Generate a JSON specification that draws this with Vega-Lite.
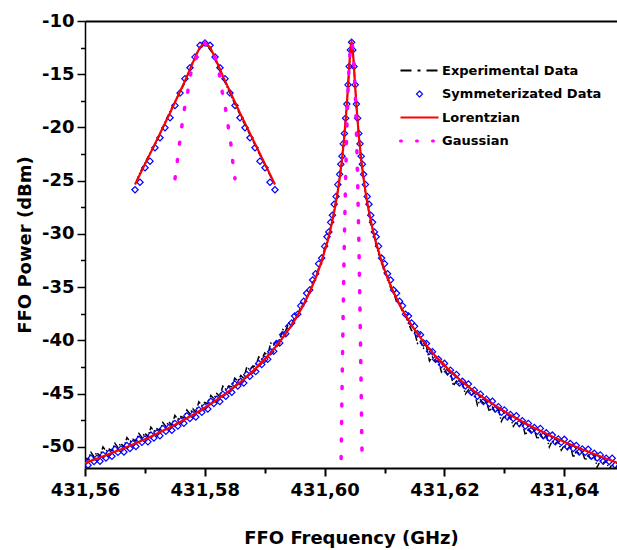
{
"$schema": "https://vega.github.io/schema/vega-lite/v6.json",
"width": 532, "height": 447,
"autosize": {"type": "none"},
"padding": {"left": 85, "top": 21, "right": 0, "bottom": 82},
"background": "white",
"config": {"view": {"stroke": null}, "font": "DejaVu Sans"},
"data": {"values": [
{"s":"E","g":"m","f":431.5600,"p":-51.03},{"s":"E","g":"m","f":431.5605,"p":-51.23},{"s":"E","g":"m","f":431.5610,"p":-50.53},{"s":"E","g":"m","f":431.5615,"p":-50.93},{"s":"E","g":"m","f":431.5620,"p":-50.53},{"s":"E","g":"m","f":431.5625,"p":-50.92},{"s":"E","g":"m","f":431.5630,"p":-50.02},{"s":"E","g":"m","f":431.5635,"p":-50.41},{"s":"E","g":"m","f":431.5640,"p":-50.21},{"s":"E","g":"m","f":431.5645,"p":-50.40},
{"s":"E","g":"m","f":431.5650,"p":-49.69},{"s":"E","g":"m","f":431.5655,"p":-50.08},{"s":"E","g":"m","f":431.5660,"p":-49.67},{"s":"E","g":"m","f":431.5665,"p":-50.05},{"s":"E","g":"m","f":431.5670,"p":-49.14},{"s":"E","g":"m","f":431.5675,"p":-49.52},{"s":"E","g":"m","f":431.5680,"p":-49.30},{"s":"E","g":"m","f":431.5685,"p":-49.48},{"s":"E","g":"m","f":431.5690,"p":-48.76},{"s":"E","g":"m","f":431.5695,"p":-49.14},
{"s":"E","g":"m","f":431.5700,"p":-48.72},{"s":"E","g":"m","f":431.5705,"p":-49.09},{"s":"E","g":"m","f":431.5710,"p":-48.16},{"s":"E","g":"m","f":431.5715,"p":-48.53},{"s":"E","g":"m","f":431.5720,"p":-48.30},{"s":"E","g":"m","f":431.5725,"p":-48.46},{"s":"E","g":"m","f":431.5730,"p":-47.73},{"s":"E","g":"m","f":431.5735,"p":-48.09},{"s":"E","g":"m","f":431.5740,"p":-47.65},{"s":"E","g":"m","f":431.5745,"p":-48.00},
{"s":"E","g":"m","f":431.5750,"p":-47.06},{"s":"E","g":"m","f":431.5755,"p":-47.41},{"s":"E","g":"m","f":431.5760,"p":-47.16},{"s":"E","g":"m","f":431.5765,"p":-47.30},{"s":"E","g":"m","f":431.5770,"p":-46.55},{"s":"E","g":"m","f":431.5775,"p":-46.89},{"s":"E","g":"m","f":431.5780,"p":-46.43},{"s":"E","g":"m","f":431.5785,"p":-46.76},{"s":"E","g":"m","f":431.5790,"p":-45.79},{"s":"E","g":"m","f":431.5795,"p":-46.12},
{"s":"E","g":"m","f":431.5800,"p":-45.84},{"s":"E","g":"m","f":431.5805,"p":-45.96},{"s":"E","g":"m","f":431.5810,"p":-45.18},{"s":"E","g":"m","f":431.5815,"p":-45.49},{"s":"E","g":"m","f":431.5820,"p":-45.00},{"s":"E","g":"m","f":431.5825,"p":-45.31},{"s":"E","g":"m","f":431.5830,"p":-44.31},{"s":"E","g":"m","f":431.5835,"p":-44.60},{"s":"E","g":"m","f":431.5840,"p":-44.29},{"s":"E","g":"m","f":431.5845,"p":-44.38},
{"s":"E","g":"m","f":431.5850,"p":-43.56},{"s":"E","g":"m","f":431.5855,"p":-43.84},{"s":"E","g":"m","f":431.5860,"p":-43.31},{"s":"E","g":"m","f":431.5865,"p":-43.57},{"s":"E","g":"m","f":431.5870,"p":-42.52},{"s":"E","g":"m","f":431.5875,"p":-42.77},{"s":"E","g":"m","f":431.5880,"p":-42.41},{"s":"E","g":"m","f":431.5885,"p":-42.44},{"s":"E","g":"m","f":431.5890,"p":-41.57},{"s":"E","g":"m","f":431.5895,"p":-41.78},
{"s":"E","g":"m","f":431.5900,"p":-41.19},{"s":"E","g":"m","f":431.5905,"p":-41.39},{"s":"E","g":"m","f":431.5910,"p":-40.27},{"s":"E","g":"m","f":431.5915,"p":-40.44},{"s":"E","g":"m","f":431.5920,"p":-40.00},{"s":"E","g":"m","f":431.5925,"p":-39.95},{"s":"E","g":"m","f":431.5930,"p":-38.98},{"s":"E","g":"m","f":431.5935,"p":-39.09},{"s":"E","g":"m","f":431.5940,"p":-38.39},{"s":"E","g":"m","f":431.5945,"p":-38.47},
{"s":"E","g":"m","f":431.5950,"p":-37.92},{"s":"E","g":"m","f":431.5955,"p":-37.66},{"s":"E","g":"m","f":431.5960,"p":-36.86},{"s":"E","g":"m","f":431.5965,"p":-36.74},{"s":"E","g":"m","f":431.5970,"p":-35.88},{"s":"E","g":"m","f":431.5975,"p":-35.48},{"s":"E","g":"m","f":431.5980,"p":-34.54},{"s":"E","g":"m","f":431.5985,"p":-34.25},{"s":"E","g":"m","f":431.5990,"p":-33.20},{"s":"E","g":"m","f":431.5995,"p":-32.58},
{"s":"E","g":"m","f":431.6000,"p":-31.37},{"s":"E","g":"m","f":431.6005,"p":-30.76},{"s":"E","g":"m","f":431.6009,"p":-29.56},{"s":"E","g":"m","f":431.6013,"p":-28.75},{"s":"E","g":"m","f":431.6017,"p":-27.42},{"s":"E","g":"m","f":431.6021,"p":-26.33},{"s":"E","g":"m","f":431.6025,"p":-24.71},{"s":"E","g":"m","f":431.6029,"p":-23.00},{"s":"E","g":"m","f":431.6033,"p":-20.66},{"s":"E","g":"m","f":431.6037,"p":-17.91},
{"s":"E","g":"m","f":431.6041,"p":-14.37},{"s":"E","g":"m","f":431.6043,"p":-12.72},{"s":"E","g":"m","f":431.6045,"p":-12.00},
{"s":"E","g":"m","f":431.6047,"p":-12.72},{"s":"E","g":"m","f":431.6049,"p":-14.37},{"s":"E","g":"m","f":431.6053,"p":-18.01},{"s":"E","g":"m","f":431.6057,"p":-20.76},{"s":"E","g":"m","f":431.6061,"p":-23.20},{"s":"E","g":"m","f":431.6065,"p":-24.81},{"s":"E","g":"m","f":431.6069,"p":-26.53},{"s":"E","g":"m","f":431.6073,"p":-27.62},{"s":"E","g":"m","f":431.6077,"p":-29.05},{"s":"E","g":"m","f":431.6081,"p":-29.76},
{"s":"E","g":"m","f":431.6085,"p":-30.86},{"s":"E","g":"m","f":431.6090,"p":-31.87},{"s":"E","g":"m","f":431.6095,"p":-32.58},{"s":"E","g":"m","f":431.6100,"p":-33.70},{"s":"E","g":"m","f":431.6105,"p":-34.05},{"s":"E","g":"m","f":431.6110,"p":-35.04},{"s":"E","g":"m","f":431.6115,"p":-35.48},{"s":"E","g":"m","f":431.6120,"p":-36.38},{"s":"E","g":"m","f":431.6125,"p":-36.54},{"s":"E","g":"m","f":431.6130,"p":-37.36},
{"s":"E","g":"m","f":431.6135,"p":-37.66},{"s":"E","g":"m","f":431.6140,"p":-38.42},{"s":"E","g":"m","f":431.6145,"p":-39.07},{"s":"E","g":"m","f":431.6150,"p":-39.19},{"s":"E","g":"m","f":431.6155,"p":-40.29},{"s":"E","g":"m","f":431.6160,"p":-40.08},{"s":"E","g":"m","f":431.6165,"p":-40.75},{"s":"E","g":"m","f":431.6170,"p":-40.60},{"s":"E","g":"m","f":431.6175,"p":-41.94},{"s":"E","g":"m","f":431.6180,"p":-41.57},
{"s":"E","g":"m","f":431.6185,"p":-41.99},{"s":"E","g":"m","f":431.6190,"p":-41.99},{"s":"E","g":"m","f":431.6195,"p":-42.98},{"s":"E","g":"m","f":431.6200,"p":-42.67},{"s":"E","g":"m","f":431.6205,"p":-43.24},{"s":"E","g":"m","f":431.6210,"p":-43.01},{"s":"E","g":"m","f":431.6215,"p":-44.27},{"s":"E","g":"m","f":431.6220,"p":-43.82},{"s":"E","g":"m","f":431.6225,"p":-44.17},{"s":"E","g":"m","f":431.6230,"p":-44.11},
{"s":"E","g":"m","f":431.6235,"p":-45.04},{"s":"E","g":"m","f":431.6240,"p":-44.66},{"s":"E","g":"m","f":431.6245,"p":-45.18},{"s":"E","g":"m","f":431.6250,"p":-44.89},{"s":"E","g":"m","f":431.6255,"p":-46.10},{"s":"E","g":"m","f":431.6260,"p":-45.61},{"s":"E","g":"m","f":431.6265,"p":-45.91},{"s":"E","g":"m","f":431.6270,"p":-45.80},{"s":"E","g":"m","f":431.6275,"p":-46.69},{"s":"E","g":"m","f":431.6280,"p":-46.28},
{"s":"E","g":"m","f":431.6285,"p":-46.76},{"s":"E","g":"m","f":431.6290,"p":-46.44},{"s":"E","g":"m","f":431.6295,"p":-47.62},{"s":"E","g":"m","f":431.6300,"p":-47.09},{"s":"E","g":"m","f":431.6305,"p":-47.36},{"s":"E","g":"m","f":431.6310,"p":-47.23},{"s":"E","g":"m","f":431.6315,"p":-48.09},{"s":"E","g":"m","f":431.6320,"p":-47.65},{"s":"E","g":"m","f":431.6325,"p":-48.10},{"s":"E","g":"m","f":431.6330,"p":-47.76},
{"s":"E","g":"m","f":431.6335,"p":-48.91},{"s":"E","g":"m","f":431.6340,"p":-48.36},{"s":"E","g":"m","f":431.6345,"p":-48.60},{"s":"E","g":"m","f":431.6350,"p":-48.45},{"s":"E","g":"m","f":431.6355,"p":-49.29},{"s":"E","g":"m","f":431.6360,"p":-48.83},{"s":"E","g":"m","f":431.6365,"p":-49.26},{"s":"E","g":"m","f":431.6370,"p":-48.90},{"s":"E","g":"m","f":431.6375,"p":-50.03},{"s":"E","g":"m","f":431.6380,"p":-49.46},
{"s":"E","g":"m","f":431.6385,"p":-49.69},{"s":"E","g":"m","f":431.6390,"p":-49.52},{"s":"E","g":"m","f":431.6395,"p":-50.34},{"s":"E","g":"m","f":431.6400,"p":-49.86},{"s":"E","g":"m","f":431.6405,"p":-50.28},{"s":"E","g":"m","f":431.6410,"p":-49.90},{"s":"E","g":"m","f":431.6415,"p":-51.02},{"s":"E","g":"m","f":431.6420,"p":-50.44},{"s":"E","g":"m","f":431.6425,"p":-50.65},{"s":"E","g":"m","f":431.6430,"p":-50.47},
{"s":"E","g":"m","f":431.6435,"p":-51.28},{"s":"E","g":"m","f":431.6440,"p":-50.79},{"s":"E","g":"m","f":431.6445,"p":-51.20},{"s":"E","g":"m","f":431.6450,"p":-50.81},{"s":"E","g":"m","f":431.6455,"p":-51.91},{"s":"E","g":"m","f":431.6460,"p":-51.32},{"s":"E","g":"m","f":431.6465,"p":-51.52},{"s":"E","g":"m","f":431.6470,"p":-51.33},{"s":"E","g":"m","f":431.6475,"p":-52.13},{"s":"E","g":"m","f":431.6480,"p":-51.63},
{"s":"E","g":"m","f":431.6485,"p":-52.03},{"s":"E","g":"m","f":431.6490,"p":-51.63},
{"s":"E","g":"i","f":431.56860,"p":-25.10},{"s":"E","g":"i","f":431.56900,"p":-24.46},{"s":"E","g":"i","f":431.57050,"p":-22.79},{"s":"E","g":"i","f":431.57200,"p":-21.31},{"s":"E","g":"i","f":431.57350,"p":-19.34},{"s":"E","g":"i","f":431.57500,"p":-17.57},{"s":"E","g":"i","f":431.57650,"p":-15.99},{"s":"E","g":"i","f":431.57780,"p":-14.08},{"s":"E","g":"i","f":431.57880,"p":-12.87},{"s":"E","g":"i","f":431.58000,"p":-12.10},
{"s":"E","g":"i","f":431.58126,"p":-12.95},{"s":"E","g":"i","f":431.58226,"p":-14.35},{"s":"E","g":"i","f":431.58356,"p":-16.00},{"s":"E","g":"i","f":431.58506,"p":-17.85},{"s":"E","g":"i","f":431.58656,"p":-19.60},{"s":"E","g":"i","f":431.58806,"p":-21.30},{"s":"E","g":"i","f":431.58956,"p":-23.00},{"s":"E","g":"i","f":431.59106,"p":-24.70},{"s":"E","g":"i","f":431.59150,"p":-25.20},

{"s":"S","f":431.5600,"p":-51.43},{"s":"S","f":431.5605,"p":-51.73},{"s":"S","f":431.5610,"p":-51.08},{"s":"S","f":431.5615,"p":-51.38},{"s":"S","f":431.5620,"p":-51.08},{"s":"S","f":431.5625,"p":-51.37},{"s":"S","f":431.5630,"p":-50.77},{"s":"S","f":431.5635,"p":-51.06},{"s":"S","f":431.5640,"p":-50.61},{"s":"S","f":431.5645,"p":-50.90},
{"s":"S","f":431.5650,"p":-50.24},{"s":"S","f":431.5655,"p":-50.53},{"s":"S","f":431.5660,"p":-50.22},{"s":"S","f":431.5665,"p":-50.50},{"s":"S","f":431.5670,"p":-49.89},{"s":"S","f":431.5675,"p":-50.17},{"s":"S","f":431.5680,"p":-49.70},{"s":"S","f":431.5685,"p":-49.98},{"s":"S","f":431.5690,"p":-49.31},{"s":"S","f":431.5695,"p":-49.59},
{"s":"S","f":431.5700,"p":-49.27},{"s":"S","f":431.5705,"p":-49.54},{"s":"S","f":431.5710,"p":-48.91},{"s":"S","f":431.5715,"p":-49.18},{"s":"S","f":431.5720,"p":-48.70},{"s":"S","f":431.5725,"p":-48.96},{"s":"S","f":431.5730,"p":-48.28},{"s":"S","f":431.5735,"p":-48.54},{"s":"S","f":431.5740,"p":-48.20},{"s":"S","f":431.5745,"p":-48.45},
{"s":"S","f":431.5750,"p":-47.81},{"s":"S","f":431.5755,"p":-48.06},{"s":"S","f":431.5760,"p":-47.56},{"s":"S","f":431.5765,"p":-47.80},{"s":"S","f":431.5770,"p":-47.10},{"s":"S","f":431.5775,"p":-47.34},{"s":"S","f":431.5780,"p":-46.98},{"s":"S","f":431.5785,"p":-47.21},{"s":"S","f":431.5790,"p":-46.54},{"s":"S","f":431.5795,"p":-46.77},
{"s":"S","f":431.5800,"p":-46.24},{"s":"S","f":431.5805,"p":-46.46},{"s":"S","f":431.5810,"p":-45.73},{"s":"S","f":431.5815,"p":-45.94},{"s":"S","f":431.5820,"p":-45.55},{"s":"S","f":431.5825,"p":-45.76},{"s":"S","f":431.5830,"p":-45.06},{"s":"S","f":431.5835,"p":-45.25},{"s":"S","f":431.5840,"p":-44.69},{"s":"S","f":431.5845,"p":-44.88},
{"s":"S","f":431.5850,"p":-44.11},{"s":"S","f":431.5855,"p":-44.29},{"s":"S","f":431.5860,"p":-43.86},{"s":"S","f":431.5865,"p":-44.02},{"s":"S","f":431.5870,"p":-43.22},{"s":"S","f":431.5875,"p":-43.37},{"s":"S","f":431.5880,"p":-42.81},{"s":"S","f":431.5885,"p":-42.94},{"s":"S","f":431.5890,"p":-42.17},{"s":"S","f":431.5895,"p":-42.28},
{"s":"S","f":431.5900,"p":-41.79},{"s":"S","f":431.5905,"p":-41.79},{"s":"S","f":431.5910,"p":-41.07},{"s":"S","f":431.5915,"p":-41.04},{"s":"S","f":431.5920,"p":-40.30},{"s":"S","f":431.5925,"p":-40.25},{"s":"S","f":431.5930,"p":-39.48},{"s":"S","f":431.5935,"p":-39.39},{"s":"S","f":431.5940,"p":-38.69},{"s":"S","f":431.5945,"p":-38.37},
{"s":"S","f":431.5950,"p":-37.72},{"s":"S","f":431.5955,"p":-37.56},{"s":"S","f":431.5960,"p":-36.76},{"s":"S","f":431.5965,"p":-36.34},{"s":"S","f":431.5970,"p":-35.58},{"s":"S","f":431.5975,"p":-35.28},{"s":"S","f":431.5980,"p":-34.34},{"s":"S","f":431.5985,"p":-33.75},{"s":"S","f":431.5990,"p":-32.80},{"s":"S","f":431.5995,"p":-32.28},
{"s":"S","f":431.6000,"p":-31.17},{"s":"S","f":431.6004,"p":-30.27},{"s":"S","f":431.6007,"p":-29.82},{"s":"S","f":431.6010,"p":-28.92},{"s":"S","f":431.6013,"p":-28.25},{"s":"S","f":431.6016,"p":-27.22},{"s":"S","f":431.6019,"p":-26.50},{"s":"S","f":431.6022,"p":-25.37},{"s":"S","f":431.6025,"p":-24.41},{"s":"S","f":431.6027,"p":-23.45},
{"s":"S","f":431.6029,"p":-22.70},{"s":"S","f":431.6031,"p":-21.54},{"s":"S","f":431.6033,"p":-20.56},{"s":"S","f":431.6035,"p":-19.13},{"s":"S","f":431.6037,"p":-17.81},{"s":"S","f":431.6039,"p":-16.00},{"s":"S","f":431.6041,"p":-14.27},{"s":"S","f":431.6043,"p":-12.72},{"s":"S","f":431.6045,"p":-12.00},
{"s":"S","f":431.6047,"p":-12.72},{"s":"S","f":431.6049,"p":-14.27},{"s":"S","f":431.6051,"p":-16.00},{"s":"S","f":431.6053,"p":-17.81},{"s":"S","f":431.6055,"p":-19.13},{"s":"S","f":431.6057,"p":-20.56},{"s":"S","f":431.6059,"p":-21.54},{"s":"S","f":431.6061,"p":-22.70},{"s":"S","f":431.6063,"p":-23.45},{"s":"S","f":431.6065,"p":-24.41},
{"s":"S","f":431.6068,"p":-25.37},{"s":"S","f":431.6071,"p":-26.50},{"s":"S","f":431.6074,"p":-27.22},{"s":"S","f":431.6077,"p":-28.25},{"s":"S","f":431.6080,"p":-28.92},{"s":"S","f":431.6083,"p":-29.82},{"s":"S","f":431.6086,"p":-30.27},{"s":"S","f":431.6090,"p":-31.17},{"s":"S","f":431.6095,"p":-32.28},{"s":"S","f":431.6100,"p":-32.80},
{"s":"S","f":431.6105,"p":-33.75},{"s":"S","f":431.6110,"p":-34.34},{"s":"S","f":431.6115,"p":-35.28},{"s":"S","f":431.6120,"p":-35.58},{"s":"S","f":431.6125,"p":-36.34},{"s":"S","f":431.6130,"p":-36.76},{"s":"S","f":431.6135,"p":-37.56},{"s":"S","f":431.6140,"p":-37.72},{"s":"S","f":431.6145,"p":-38.37},{"s":"S","f":431.6150,"p":-38.69},
{"s":"S","f":431.6155,"p":-39.39},{"s":"S","f":431.6160,"p":-39.48},{"s":"S","f":431.6165,"p":-40.25},{"s":"S","f":431.6170,"p":-40.30},{"s":"S","f":431.6175,"p":-41.04},{"s":"S","f":431.6180,"p":-41.07},{"s":"S","f":431.6185,"p":-41.79},{"s":"S","f":431.6190,"p":-41.79},{"s":"S","f":431.6195,"p":-42.28},{"s":"S","f":431.6200,"p":-42.17},
{"s":"S","f":431.6205,"p":-42.94},{"s":"S","f":431.6210,"p":-42.81},{"s":"S","f":431.6215,"p":-43.37},{"s":"S","f":431.6220,"p":-43.22},{"s":"S","f":431.6225,"p":-44.02},{"s":"S","f":431.6230,"p":-43.86},{"s":"S","f":431.6235,"p":-44.29},{"s":"S","f":431.6240,"p":-44.11},{"s":"S","f":431.6245,"p":-44.88},{"s":"S","f":431.6250,"p":-44.69},
{"s":"S","f":431.6255,"p":-45.25},{"s":"S","f":431.6260,"p":-45.06},{"s":"S","f":431.6265,"p":-45.76},{"s":"S","f":431.6270,"p":-45.55},{"s":"S","f":431.6275,"p":-45.94},{"s":"S","f":431.6280,"p":-45.73},{"s":"S","f":431.6285,"p":-46.46},{"s":"S","f":431.6290,"p":-46.24},{"s":"S","f":431.6295,"p":-46.77},{"s":"S","f":431.6300,"p":-46.54},
{"s":"S","f":431.6305,"p":-47.21},{"s":"S","f":431.6310,"p":-46.98},{"s":"S","f":431.6315,"p":-47.34},{"s":"S","f":431.6320,"p":-47.10},{"s":"S","f":431.6325,"p":-47.80},{"s":"S","f":431.6330,"p":-47.56},{"s":"S","f":431.6335,"p":-48.06},{"s":"S","f":431.6340,"p":-47.81},{"s":"S","f":431.6345,"p":-48.45},{"s":"S","f":431.6350,"p":-48.20},
{"s":"S","f":431.6355,"p":-48.54},{"s":"S","f":431.6360,"p":-48.28},{"s":"S","f":431.6365,"p":-48.96},{"s":"S","f":431.6370,"p":-48.70},{"s":"S","f":431.6375,"p":-49.18},{"s":"S","f":431.6380,"p":-48.91},{"s":"S","f":431.6385,"p":-49.54},{"s":"S","f":431.6390,"p":-49.27},{"s":"S","f":431.6395,"p":-49.59},{"s":"S","f":431.6400,"p":-49.31},
{"s":"S","f":431.6405,"p":-49.98},{"s":"S","f":431.6410,"p":-49.70},{"s":"S","f":431.6415,"p":-50.17},{"s":"S","f":431.6420,"p":-49.89},{"s":"S","f":431.6425,"p":-50.50},{"s":"S","f":431.6430,"p":-50.22},{"s":"S","f":431.6435,"p":-50.53},{"s":"S","f":431.6440,"p":-50.24},{"s":"S","f":431.6445,"p":-50.90},{"s":"S","f":431.6450,"p":-50.61},
{"s":"S","f":431.6455,"p":-51.06},{"s":"S","f":431.6460,"p":-50.77},{"s":"S","f":431.6465,"p":-51.37},{"s":"S","f":431.6470,"p":-51.08},{"s":"S","f":431.6475,"p":-51.38},{"s":"S","f":431.6480,"p":-51.08},{"s":"S","f":431.6485,"p":-51.73},
{"s":"S","f":431.56835,"p":-25.86},{"s":"S","f":431.56918,"p":-25.15},{"s":"S","f":431.57002,"p":-23.79},{"s":"S","f":431.57085,"p":-23.17},{"s":"S","f":431.57168,"p":-21.91},{"s":"S","f":431.57252,"p":-20.97},{"s":"S","f":431.57335,"p":-20.03},{"s":"S","f":431.57419,"p":-19.09},{"s":"S","f":431.57502,"p":-17.93},{"s":"S","f":431.57586,"p":-16.77},
{"s":"S","f":431.57669,"p":-15.42},{"s":"S","f":431.57753,"p":-14.39},{"s":"S","f":431.57836,"p":-13.39},{"s":"S","f":431.57920,"p":-12.29},{"s":"S","f":431.58003,"p":-12.07},{"s":"S","f":431.58087,"p":-12.29},{"s":"S","f":431.58170,"p":-13.39},{"s":"S","f":431.58253,"p":-14.39},{"s":"S","f":431.58337,"p":-15.42},{"s":"S","f":431.58420,"p":-16.77},
{"s":"S","f":431.58504,"p":-17.93},{"s":"S","f":431.58587,"p":-19.09},{"s":"S","f":431.58671,"p":-20.03},{"s":"S","f":431.58754,"p":-20.97},{"s":"S","f":431.58838,"p":-21.91},{"s":"S","f":431.58921,"p":-23.17},{"s":"S","f":431.59005,"p":-23.79},{"s":"S","f":431.59088,"p":-25.15},{"s":"S","f":431.59171,"p":-25.86},

{"s":"L","g":"m","f":431.5599,"p":-51.55},{"s":"L","g":"m","f":431.5625,"p":-51.02},{"s":"L","g":"m","f":431.5665,"p":-50.15},{"s":"L","g":"m","f":431.5705,"p":-49.19},{"s":"L","g":"m","f":431.5745,"p":-48.10},{"s":"L","g":"m","f":431.5785,"p":-46.86},{"s":"L","g":"m","f":431.5815,"p":-45.79},{"s":"L","g":"m","f":431.5845,"p":-44.58},{"s":"L","g":"m","f":431.5865,"p":-43.67},{"s":"L","g":"m","f":431.5885,"p":-42.64},
{"s":"L","g":"m","f":431.5905,"p":-41.49},{"s":"L","g":"m","f":431.5925,"p":-40.15},{"s":"L","g":"m","f":431.5945,"p":-38.57},{"s":"L","g":"m","f":431.5955,"p":-37.66},{"s":"L","g":"m","f":431.5965,"p":-36.64},{"s":"L","g":"m","f":431.5975,"p":-35.48},{"s":"L","g":"m","f":431.5985,"p":-34.15},{"s":"L","g":"m","f":431.5995,"p":-32.58},{"s":"L","g":"m","f":431.6005,"p":-30.66},{"s":"L","g":"m","f":431.6009,"p":-29.76},
{"s":"L","g":"m","f":431.6013,"p":-28.75},{"s":"L","g":"m","f":431.6017,"p":-27.62},{"s":"L","g":"m","f":431.6021,"p":-26.33},{"s":"L","g":"m","f":431.6025,"p":-24.81},{"s":"L","g":"m","f":431.6029,"p":-23.00},{"s":"L","g":"m","f":431.6033,"p":-20.76},{"s":"L","g":"m","f":431.6037,"p":-17.91},{"s":"L","g":"m","f":431.6041,"p":-14.37},{"s":"L","g":"m","f":431.6042,"p":-13.48},{"s":"L","g":"m","f":431.6044,"p":-12.19},
{"s":"L","g":"m","f":431.6045,"p":-12.00},{"s":"L","g":"m","f":431.6046,"p":-12.19},{"s":"L","g":"m","f":431.6048,"p":-13.48},{"s":"L","g":"m","f":431.6049,"p":-14.37},{"s":"L","g":"m","f":431.6053,"p":-17.91},{"s":"L","g":"m","f":431.6057,"p":-20.76},{"s":"L","g":"m","f":431.6061,"p":-23.00},{"s":"L","g":"m","f":431.6065,"p":-24.81},{"s":"L","g":"m","f":431.6069,"p":-26.33},{"s":"L","g":"m","f":431.6073,"p":-27.62},
{"s":"L","g":"m","f":431.6077,"p":-28.75},{"s":"L","g":"m","f":431.6081,"p":-29.76},{"s":"L","g":"m","f":431.6085,"p":-30.66},{"s":"L","g":"m","f":431.6095,"p":-32.58},{"s":"L","g":"m","f":431.6105,"p":-34.15},{"s":"L","g":"m","f":431.6115,"p":-35.48},{"s":"L","g":"m","f":431.6125,"p":-36.64},{"s":"L","g":"m","f":431.6135,"p":-37.66},{"s":"L","g":"m","f":431.6145,"p":-38.57},{"s":"L","g":"m","f":431.6165,"p":-40.15},
{"s":"L","g":"m","f":431.6185,"p":-41.49},{"s":"L","g":"m","f":431.6205,"p":-42.64},{"s":"L","g":"m","f":431.6225,"p":-43.67},{"s":"L","g":"m","f":431.6245,"p":-44.58},{"s":"L","g":"m","f":431.6275,"p":-45.79},{"s":"L","g":"m","f":431.6305,"p":-46.86},{"s":"L","g":"m","f":431.6345,"p":-48.10},{"s":"L","g":"m","f":431.6385,"p":-49.19},{"s":"L","g":"m","f":431.6425,"p":-50.15},{"s":"L","g":"m","f":431.6465,"p":-51.02},
{"s":"L","g":"m","f":431.6491,"p":-51.55},
{"s":"L","g":"i","f":431.56835,"p":-25.36},{"s":"L","g":"i","f":431.57140,"p":-21.85},{"s":"L","g":"i","f":431.57419,"p":-18.65},{"s":"L","g":"i","f":431.57697,"p":-15.27},{"s":"L","g":"i","f":431.57836,"p":-13.44},{"s":"L","g":"i","f":431.57919,"p":-12.45},{"s":"L","g":"i","f":431.58003,"p":-12.07},{"s":"L","g":"i","f":431.58087,"p":-12.45},{"s":"L","g":"i","f":431.58170,"p":-13.44},{"s":"L","g":"i","f":431.58309,"p":-15.27},
{"s":"L","g":"i","f":431.58587,"p":-18.65},{"s":"L","g":"i","f":431.58866,"p":-21.85},{"s":"L","g":"i","f":431.59171,"p":-25.36},

{"s":"G","g":"m","f":431.60275,"p":-51.10},{"s":"G","g":"m","f":431.6029,"p":-44.71},{"s":"G","g":"m","f":431.6031,"p":-37.04},{"s":"G","g":"m","f":431.6033,"p":-30.40},{"s":"G","g":"m","f":431.6035,"p":-24.78},{"s":"G","g":"m","f":431.6037,"p":-20.18},{"s":"G","g":"m","f":431.6039,"p":-16.60},{"s":"G","g":"m","f":431.6041,"p":-14.04},{"s":"G","g":"m","f":431.6043,"p":-12.51},{"s":"G","g":"m","f":431.6045,"p":-12.00},
{"s":"G","g":"m","f":431.6047,"p":-12.51},{"s":"G","g":"m","f":431.6049,"p":-14.04},{"s":"G","g":"m","f":431.6051,"p":-16.60},{"s":"G","g":"m","f":431.6053,"p":-20.18},{"s":"G","g":"m","f":431.6055,"p":-24.78},{"s":"G","g":"m","f":431.6057,"p":-30.40},{"s":"G","g":"m","f":431.6059,"p":-37.04},{"s":"G","g":"m","f":431.6061,"p":-44.71},{"s":"G","g":"m","f":431.60625,"p":-51.10},
{"s":"G","g":"i","f":431.57502,"p":-24.83},{"s":"G","g":"i","f":431.57541,"p":-23.17},{"s":"G","g":"i","f":431.57575,"p":-21.63},{"s":"G","g":"i","f":431.57614,"p":-19.97},{"s":"G","g":"i","f":431.57658,"p":-18.31},{"s":"G","g":"i","f":431.57714,"p":-16.68},{"s":"G","g":"i","f":431.57764,"p":-14.95},{"s":"G","g":"i","f":431.57864,"p":-13.39},{"s":"G","g":"i","f":431.58003,"p":-12.07},
{"s":"G","g":"i","f":431.58170,"p":-13.39},{"s":"G","g":"i","f":431.58242,"p":-14.95},{"s":"G","g":"i","f":431.58292,"p":-16.68},{"s":"G","g":"i","f":431.58348,"p":-18.31},{"s":"G","g":"i","f":431.58392,"p":-19.97},{"s":"G","g":"i","f":431.58437,"p":-21.63},{"s":"G","g":"i","f":431.58465,"p":-23.17},{"s":"G","g":"i","f":431.58504,"p":-24.83}
]},
"resolve": {"axis": {"x": "independent", "y": "independent"}},
"layer": [
{
 "transform": [{"filter": "datum.s === 'E'"}],
 "mark": {"type": "line", "clip": true, "strokeWidth": 1.5, "strokeDash": [6, 2, 1.5, 2]},
 "encoding": {
  "x": {"field": "f", "type": "quantitative", "scale": {"domain": [431.56, 431.6488], "nice": false, "zero": false},
        "axis": {"orient": "top", "labels": false, "ticks": false, "title": null, "grid": false, "domainColor": "#000000", "domainWidth": 2}},
  "y": {"field": "p", "type": "quantitative", "scale": {"domain": [-52, -10], "nice": false, "zero": false}, "axis": null},
  "detail": {"field": "g"},
  "stroke": {"field": "s", "type": "nominal",
    "scale": {"domain": ["E", "S", "L", "G"], "range": ["#000000", "#0000ff", "#ff0000", "#ff00ff"]},
    "legend": {
      "orient": "none", "legendX": 312, "legendY": 43, "title": null, "padding": 0,
      "symbolType": "M-9.5,0H9.5", "symbolSize": 16, "symbolStrokeWidth": 2, "symbolOffset": 16,
      "labelOffset": 16, "labelFont": "DejaVu Sans", "labelFontSize": 13, "labelFontWeight": "bold", "labelColor": "#000000",
      "rowPadding": 9.5,
      "labelExpr": "datum.value === 'E' ? 'Experimental Data' : datum.value === 'S' ? 'Symmeterizated Data' : datum.value === 'L' ? 'Lorentzian' : 'Gaussian'",
      "encode": {"symbols": {"update": {
        "shape": {"signal": "datum.value === 'S' ? 'diamond' : 'M-9.5,0H9.5'"},
        "size": {"signal": "datum.value === 'S' ? 36 : 16"},
        "strokeDash": {"signal": "datum.value === 'E' ? [11,6,3,6] : datum.value === 'G' ? [1,15] : [1,0]"},
        "strokeWidth": {"signal": "datum.value === 'S' ? 1.2 : datum.value === 'G' ? 3 : 2"},
        "strokeCap": {"signal": "datum.value === 'G' ? 'round' : 'butt'"},
        "fill": {"value": "transparent"}
      }}}
    }}
 }
},
{
 "transform": [{"filter": "datum.s === 'S'"}],
 "mark": {"type": "point", "shape": "diamond", "filled": false, "size": 40, "strokeWidth": 1.2, "opacity": 1, "clip": true},
 "encoding": {
  "x": {"field": "f", "type": "quantitative",
        "axis": {"orient": "bottom", "values": [431.57, 431.59, 431.61, 431.63], "labels": false, "title": null, "domain": false, "grid": false, "tickSize": 5, "tickWidth": 2, "tickColor": "#000000"}},
  "y": {"field": "p", "type": "quantitative",
        "axis": {"orient": "left", "values": [-12.5, -17.5, -22.5, -27.5, -32.5, -37.5, -42.5, -47.5], "labels": false, "title": null, "domain": false, "grid": false, "tickSize": 4.5, "tickWidth": 1.5, "tickColor": "#000000"}},
  "stroke": {"field": "s", "type": "nominal", "legend": null}
 }
},
{
 "transform": [{"filter": "datum.s === 'L'"}],
 "mark": {"type": "line", "clip": true, "strokeWidth": 2.2},
 "encoding": {
  "x": {"field": "f", "type": "quantitative",
        "axis": {"orient": "bottom", "values": [431.56, 431.58, 431.6, 431.62, 431.64], "grid": false,
                 "labelExpr": "replace(format(datum.value, '.2f'), '.', ',')",
                 "title": "FFO Frequency (GHz)", "domainColor": "#000000", "domainWidth": 2, "tickColor": "#000000", "tickSize": 8, "tickWidth": 2,
                 "labelFont": "DejaVu Sans", "labelFontSize": 18, "labelFontWeight": "bold", "labelColor": "#000000", "labelPadding": 5, "labelFlush": false,
                 "titleFont": "DejaVu Sans", "titleFontSize": 18, "titleFontWeight": "bold", "titleColor": "#000000", "titlePadding": 30}},
  "y": {"field": "p", "type": "quantitative",
        "axis": {"orient": "left", "values": [-10, -15, -20, -25, -30, -35, -40, -45, -50], "grid": false,
                 "labelExpr": "'' + datum.value",
                 "title": "FFO Power (dBm)", "domainColor": "#000000", "domainWidth": 1.5, "tickColor": "#000000", "tickSize": 8, "tickWidth": 1.5,
                 "labelFont": "DejaVu Sans", "labelFontSize": 18, "labelFontWeight": "bold", "labelColor": "#000000", "labelPadding": 3, "labelFlush": false,
                 "titleFont": "DejaVu Sans", "titleFontSize": 18, "titleFontWeight": "bold", "titleColor": "#000000", "titlePadding": 7}},
  "detail": {"field": "g"},
  "stroke": {"field": "s", "type": "nominal", "legend": null}
 }
},
{
 "transform": [{"filter": "datum.s === 'G'"}],
 "mark": {"type": "line", "clip": true, "strokeWidth": 3.5, "strokeDash": [2, 15.5], "strokeCap": "round"},
 "encoding": {
  "x": {"field": "f", "type": "quantitative", "axis": null},
  "y": {"field": "p", "type": "quantitative", "axis": null},
  "detail": {"field": "g"},
  "stroke": {"field": "s", "type": "nominal", "legend": null}
 }
}
]
}
